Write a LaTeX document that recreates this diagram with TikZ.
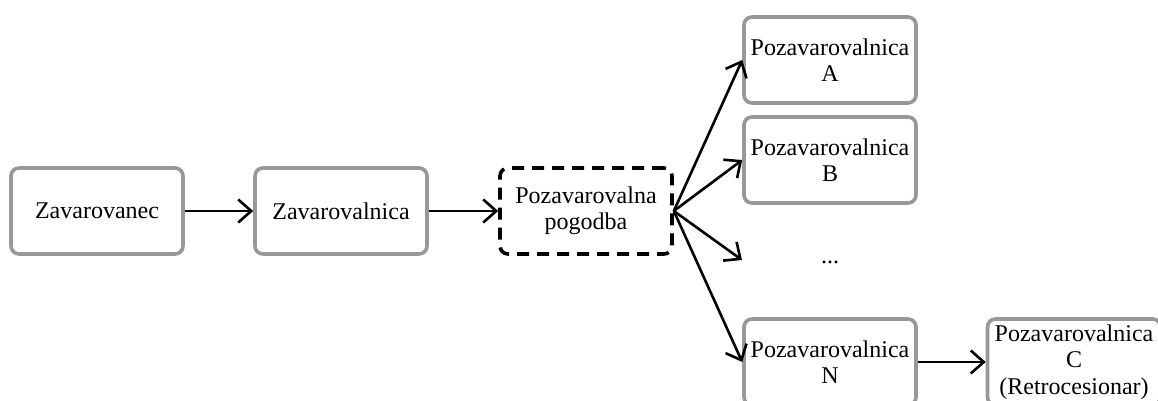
\documentclass[tikz,border=0pt]{standalone}
\usepackage{fontspec}
\setmainfont{Liberation Serif}
\usetikzlibrary{arrows.meta}
\definecolor{boxgray}{HTML}{989898}
\begin{document}
\begin{tikzpicture}[x=1pt,y=-1pt,
  box/.style={draw=boxgray, line width=3.6pt, rounded corners=8pt, fill=white,
    minimum width=172pt, minimum height=86pt, align=center, inner sep=0pt,
    font=\fontsize{24}{26.5}\selectfont},
  dbox/.style={box, draw=black, dash pattern=on 12pt off 8pt},
  plain/.style={align=center, inner sep=0pt,
    font=\fontsize{24}{26.5}\selectfont},
  conn/.style={line width=2.6pt, -{Straight Barb[length=13pt,width=23pt,line width=2.6pt]}}]
\clip (0,0) rectangle (1158,401);
\fill[white] (0,0) rectangle (1158,401);
\node[box] (z1) at (97,211) {Zavarovanec};
\node[box] (z2) at (341,211) {Zavarovalnica};
\node[dbox] (pog) at (586,211) {Pozavarovalna\\pogodba};
\node[box] (A) at (830,60) {Pozavarovalnica\\A};
\node[box] (B) at (830,160) {Pozavarovalnica\\B};
\node[plain] (dots) at (830,262) {...};
\coordinate (dend) at (742,260);
\node[box] (N) at (830,362) {Pozavarovalnica\\N};
\node[box, minimum width=173pt] (C) at (1074,362) {Pozavarovalnica\\C\\(Retrocesionar)};
\draw[conn] (z1) -- (z2);
\draw[conn] (z2) -- (pog);
\draw[conn] (pog.east) -- (A.west);
\draw[conn] (pog.east) -- (B.west);
\draw[conn] (pog.east) -- (dend);
\draw[conn] (pog.east) -- (N.west);
\draw[conn] (N) -- (C);
\end{tikzpicture}
\end{document}
